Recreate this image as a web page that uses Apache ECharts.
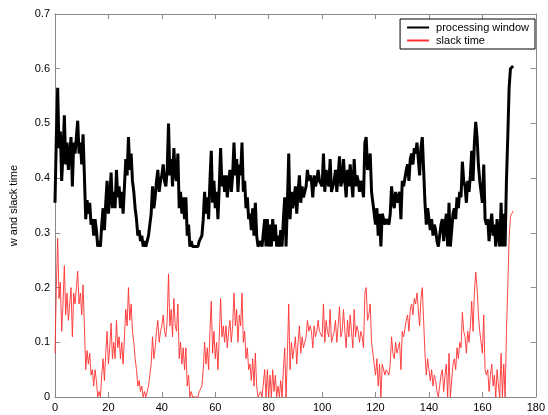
<!DOCTYPE html>
<html>
<head>
<meta charset="utf-8">
<script src="https://cdn.jsdelivr.net/npm/echarts@6/dist/echarts.min.js"></script>
<style>
  html, body { margin: 0; padding: 0; background: #fff; }
  #chart { width: 548px; height: 415px; }
</style>
</head>
<body>
<div id="chart"></div>
<script>
// Samples are taken every half time unit, starting at t = 0.
const sampleStep = 0.5;

// Processing window w at each sample.
const processingWindow = [
  0.355, 0.475, 0.565, 0.455, 0.485, 0.395, 0.445, 0.515, 0.425, 0.465,
  0.415, 0.445, 0.475, 0.385, 0.465, 0.445, 0.475, 0.505, 0.445, 0.465,
  0.425, 0.48, 0.405, 0.325, 0.36, 0.335, 0.355, 0.315, 0.325, 0.295,
  0.325, 0.305, 0.275, 0.285, 0.275, 0.315, 0.345, 0.305, 0.355, 0.395,
  0.335, 0.365, 0.41, 0.345, 0.375, 0.345, 0.415, 0.365, 0.385, 0.345,
  0.375, 0.335, 0.385, 0.435, 0.405, 0.475, 0.415, 0.445, 0.395, 0.375,
  0.345, 0.325, 0.295, 0.305, 0.285, 0.295, 0.275, 0.285, 0.275, 0.275,
  0.295, 0.315, 0.335, 0.385, 0.345, 0.365, 0.395, 0.415, 0.375, 0.395,
  0.405, 0.425, 0.395, 0.385, 0.415, 0.50, 0.405, 0.435, 0.385, 0.455,
  0.405, 0.395, 0.445, 0.345, 0.375, 0.335, 0.365, 0.325, 0.365, 0.295,
  0.315, 0.275, 0.285, 0.275, 0.275, 0.275, 0.275, 0.275, 0.285, 0.285,
  0.295, 0.325, 0.375, 0.335, 0.365, 0.325, 0.395, 0.45, 0.355, 0.395,
  0.345, 0.375, 0.325, 0.385, 0.455, 0.385, 0.405, 0.375, 0.405, 0.365,
  0.395, 0.415, 0.375, 0.405, 0.465, 0.405, 0.435, 0.375, 0.425, 0.405,
  0.465, 0.375, 0.395, 0.345, 0.365, 0.325, 0.335, 0.305, 0.345, 0.295,
  0.355, 0.295, 0.275, 0.275, 0.285, 0.275, 0.275, 0.325, 0.275, 0.325,
  0.275, 0.315, 0.275, 0.325, 0.285, 0.315, 0.275, 0.295, 0.275, 0.305,
  0.275, 0.325, 0.365, 0.275, 0.355, 0.445, 0.325, 0.375, 0.345, 0.365,
  0.385, 0.335, 0.375, 0.405, 0.355, 0.385, 0.365, 0.375, 0.385, 0.415,
  0.395, 0.405, 0.395, 0.365, 0.405, 0.385, 0.395, 0.415, 0.395, 0.395,
  0.385, 0.445, 0.375, 0.415, 0.395, 0.385, 0.435, 0.375, 0.385, 0.395,
  0.415, 0.375, 0.405, 0.44, 0.385, 0.395, 0.435, 0.395, 0.365, 0.415,
  0.385, 0.425, 0.395, 0.365, 0.435, 0.385, 0.405, 0.395, 0.375, 0.395,
  0.385, 0.365, 0.465, 0.475, 0.415, 0.425, 0.445, 0.375, 0.355, 0.335,
  0.315, 0.345, 0.295, 0.335, 0.275, 0.335, 0.335, 0.315, 0.325, 0.325,
  0.315, 0.335, 0.385, 0.355, 0.345, 0.375, 0.355, 0.365, 0.375, 0.325,
  0.395, 0.385, 0.40, 0.415, 0.425, 0.395, 0.435, 0.445, 0.425, 0.455,
  0.445, 0.465, 0.435, 0.405, 0.455, 0.475, 0.415, 0.355, 0.315, 0.345,
  0.325, 0.305, 0.325, 0.295, 0.315, 0.305, 0.285, 0.275, 0.295, 0.315,
  0.325, 0.285, 0.315, 0.335, 0.275, 0.355, 0.275, 0.275, 0.335, 0.345,
  0.325, 0.365, 0.345, 0.375, 0.365, 0.43, 0.395, 0.385, 0.355, 0.395,
  0.375, 0.405, 0.45, 0.395, 0.465, 0.503, 0.475, 0.425, 0.395, 0.375,
  0.355, 0.425, 0.325, 0.315, 0.325, 0.285, 0.315, 0.335, 0.295, 0.315,
  0.275, 0.325, 0.295, 0.275, 0.355, 0.275, 0.335, 0.275, 0.395, 0.475,
  0.565, 0.60, 0.60, 0.605
];

// Slack time at each sample.
const slackTime = [
  0.08, 0.20, 0.29, 0.18, 0.21, 0.12, 0.17, 0.24, 0.15, 0.19,
  0.14, 0.17, 0.20, 0.11, 0.19, 0.17, 0.20, 0.23, 0.17, 0.19,
  0.15, 0.205, 0.13, 0.05, 0.085, 0.06, 0.08, 0.04, 0.05, 0.02,
  0.05, 0.03, 0.0, 0.01, 0.0, 0.04, 0.07, 0.03, 0.08, 0.12,
  0.06, 0.09, 0.135, 0.07, 0.10, 0.07, 0.14, 0.09, 0.11, 0.07,
  0.10, 0.06, 0.11, 0.16, 0.13, 0.20, 0.14, 0.17, 0.12, 0.10,
  0.07, 0.05, 0.02, 0.03, 0.01, 0.02, 0.0, 0.01, 0.0, 0.0,
  0.02, 0.04, 0.06, 0.11, 0.07, 0.09, 0.12, 0.14, 0.10, 0.12,
  0.13, 0.15, 0.12, 0.11, 0.14, 0.225, 0.13, 0.16, 0.11, 0.18,
  0.13, 0.12, 0.17, 0.07, 0.10, 0.06, 0.09, 0.05, 0.09, 0.02,
  0.04, 0.0, 0.01, 0.0, 0.0, 0.0, 0.0, 0.0, 0.01, 0.01,
  0.02, 0.05, 0.10, 0.06, 0.09, 0.05, 0.12, 0.175, 0.08, 0.12,
  0.07, 0.10, 0.05, 0.11, 0.18, 0.11, 0.13, 0.10, 0.13, 0.09,
  0.12, 0.14, 0.10, 0.13, 0.19, 0.13, 0.16, 0.10, 0.15, 0.13,
  0.19, 0.10, 0.12, 0.07, 0.09, 0.05, 0.06, 0.03, 0.07, 0.02,
  0.08, 0.02, 0.0, 0.0, 0.01, 0.0, 0.0, 0.05, 0.0, 0.05,
  0.0, 0.04, 0.0, 0.05, 0.01, 0.04, 0.0, 0.02, 0.0, 0.03,
  0.0, 0.05, 0.09, 0.0, 0.08, 0.17, 0.05, 0.10, 0.07, 0.09,
  0.11, 0.06, 0.10, 0.13, 0.08, 0.11, 0.09, 0.10, 0.11, 0.14,
  0.12, 0.13, 0.12, 0.09, 0.13, 0.11, 0.12, 0.14, 0.12, 0.12,
  0.11, 0.17, 0.10, 0.14, 0.12, 0.11, 0.16, 0.10, 0.11, 0.12,
  0.14, 0.10, 0.13, 0.165, 0.11, 0.12, 0.16, 0.12, 0.09, 0.14,
  0.11, 0.15, 0.12, 0.09, 0.16, 0.11, 0.13, 0.12, 0.10, 0.12,
  0.11, 0.09, 0.19, 0.20, 0.14, 0.15, 0.17, 0.10, 0.08, 0.06,
  0.04, 0.07, 0.02, 0.06, 0.0, 0.06, 0.06, 0.04, 0.05, 0.05,
  0.04, 0.06, 0.11, 0.08, 0.07, 0.10, 0.08, 0.09, 0.10, 0.05,
  0.12, 0.11, 0.125, 0.14, 0.15, 0.12, 0.16, 0.17, 0.15, 0.18,
  0.17, 0.19, 0.16, 0.13, 0.18, 0.20, 0.14, 0.08, 0.04, 0.07,
  0.05, 0.03, 0.05, 0.02, 0.04, 0.03, 0.01, 0.0, 0.02, 0.04,
  0.05, 0.01, 0.04, 0.06, 0.0, 0.08, 0.0, 0.0, 0.06, 0.07,
  0.05, 0.09, 0.07, 0.10, 0.09, 0.155, 0.12, 0.11, 0.08, 0.12,
  0.10, 0.13, 0.175, 0.12, 0.19, 0.228, 0.20, 0.15, 0.12, 0.10,
  0.08, 0.15, 0.05, 0.04, 0.05, 0.01, 0.04, 0.06, 0.02, 0.04,
  0.0, 0.05, 0.02, 0.0, 0.08, 0.0, 0.06, 0.0, 0.12, 0.20,
  0.29, 0.33, 0.335, 0.34
];

const xTicks = { min: 0, max: 180, interval: 20 };
const yTicks = { min: 0, max: 0.7, interval: 0.1 };

const withTime = values => values.map((v, i) => [i * sampleStep, v]);

const frameColor = '#8a8a8a';
const labelFont = { color: '#000', fontSize: 11, fontFamily: 'Liberation Sans, Arial, sans-serif' };

// Boxed axes with inward ticks on every side.
function axis(extra) {
  return Object.assign({
    type: 'value',
    axisLine: { show: true, onZero: false, lineStyle: { color: frameColor, width: 1 } },
    axisTick: { show: true, inside: true, length: 5, lineStyle: { color: frameColor } },
    splitLine: { show: false }
  }, extra);
}

const chart = echarts.init(document.getElementById('chart'), null, { renderer: 'canvas' });
chart.setOption({
  animation: false,
  backgroundColor: '#fff',
  grid: { left: 52, right: 7, top: 14, bottom: 18, containLabel: false },
  legend: {
    orient: 'vertical',
    right: 13,
    top: 19,
    padding: [3, 6, 3, 6],
    itemGap: 2,
    itemWidth: 22,
    itemHeight: 10,
    borderColor: '#000',
    borderWidth: 1,
    backgroundColor: '#fff',
    itemStyle: { opacity: 0 },
    textStyle: Object.assign({}, labelFont, { padding: [0, 0, 0, 2] }),
    data: ['processing window', 'slack time']
  },
  xAxis: [
    axis(Object.assign({ position: 'bottom', axisLabel: Object.assign({ margin: 5 }, labelFont) }, xTicks)),
    axis(Object.assign({ position: 'top', axisLabel: { show: false } }, xTicks))
  ],
  yAxis: [
    axis(Object.assign({
      position: 'left',
      axisLabel: Object.assign({ margin: 5 }, labelFont),
      name: 'w and slack time',
      nameLocation: 'middle',
      nameGap: 36,
      nameTextStyle: labelFont
    }, yTicks)),
    axis(Object.assign({ position: 'right', axisLabel: { show: false } }, yTicks))
  ],
  series: [
    {
      name: 'processing window',
      type: 'line',
      data: withTime(processingWindow),
      symbol: 'none',
      color: '#000',
      lineStyle: { color: '#000', width: 3 }
    },
    {
      name: 'slack time',
      type: 'line',
      data: withTime(slackTime),
      symbol: 'none',
      color: '#ff3030',
      lineStyle: { color: '#ff3030', width: 0.9 }
    }
  ]
});
</script>
</body>
</html>
